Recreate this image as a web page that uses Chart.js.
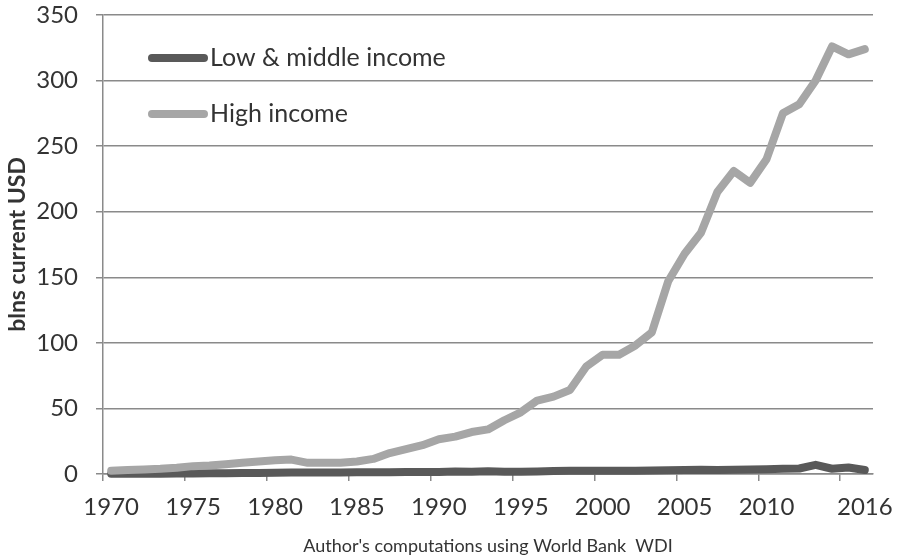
<!DOCTYPE html>
<html>
<head>
<meta charset="utf-8">
<script src="https://cdn.jsdelivr.net/npm/chart.js@4"></script>
<style>
html,body{margin:0;padding:0;background:#fff;}
#wrap{width:897px;height:555px;}
</style>
</head>
<body>
<div id="wrap"><canvas id="c" width="897" height="555"></canvas></div>
<script>
const years = [1970,1971,1972,1973,1974,1975,1976,1977,1978,1979,
               1980,1981,1982,1983,1984,1985,1986,1987,1988,1989,
               1990,1991,1992,1993,1994,1995,1996,1997,1998,1999,
               2000,2001,2002,2003,2004,2005,2006,2007,2008,2009,
               2010,2011,2012,2013,2014,2015,2016];
const lowMiddle = [0.1,0.1,0.2,0.2,0.3,0.4,0.5,0.6,0.7,0.8,
                   1.0,1.1,1.1,1.1,1.2,1.3,1.3,1.4,1.5,1.5,
                   1.6,2.0,1.7,2.1,1.8,1.8,2.0,2.2,2.4,2.5,
                   2.4,2.4,2.5,2.6,2.8,3.0,3.3,3.0,3.3,3.4,
                   3.6,4.0,4.2,7.0,4.0,5.0,3.0];
const highIncome = [2.5,3.0,3.5,4.0,4.8,6.0,6.5,7.5,8.5,9.5,
                    10.5,11.0,8.5,8.5,8.5,9.5,11.5,16.0,19.0,22.0,
                    26.5,28.5,32.0,34.0,41.0,47.0,56.0,59.0,64.0,82.0,
                    91.0,91.0,98.0,108.0,147.0,168.0,184.0,215.0,231.0,222.0,
                    240.0,275.0,282.0,300.0,326.0,320.0,324.0];
const xLabelYears = [1970,1975,1980,1985,1990,1995,2000,2005,2010,2016];
const yTicks = [0,50,100,150,200,250,300,350];
const seriesNames = ['Low & middle income','High income'];
const yTitle = 'blns current USD';
const sourceNote = "Author's computations using World Bank  WDI";

const LOW_COLOR = '#595959';
const HIGH_COLOR = '#a6a6a6';
const GRID = '#8a8a8a';
const TEXT = '#333333';
const FONT = 'Lato';

const insideLegend = {
  id: 'insideLegend',
  afterDatasetsDraw(chart) {
    const ctx = chart.ctx;
    const items = [
      {name: seriesNames[0], color: LOW_COLOR, y: 58},
      {name: seriesNames[1], color: HIGH_COLOR, y: 114}
    ];
    ctx.save();
    items.forEach(it => {
      ctx.beginPath();
      ctx.strokeStyle = it.color;
      ctx.lineWidth = 8;
      ctx.lineCap = 'round';
      ctx.moveTo(152, it.y);
      ctx.lineTo(204, it.y);
      ctx.stroke();
      ctx.fillStyle = TEXT;
      ctx.font = '25px ' + FONT;
      ctx.textAlign = 'left';
      ctx.textBaseline = 'middle';
      ctx.fillText(it.name, 210, it.y);
    });
    ctx.restore();
  }
};

new Chart(document.getElementById('c'), {
  type: 'line',
  data: {
    labels: years,
    datasets: [
      {label: seriesNames[0], data: lowMiddle, borderColor: LOW_COLOR, backgroundColor: LOW_COLOR,
       borderWidth: 8, pointRadius: 0, tension: 0, borderJoinStyle: 'round', borderCapStyle: 'round', order: 1, clip: false},
      {label: seriesNames[1], data: highIncome, borderColor: HIGH_COLOR, backgroundColor: HIGH_COLOR,
       borderWidth: 8, pointRadius: 0, tension: 0, borderJoinStyle: 'round', borderCapStyle: 'round', order: 0, clip: false}
    ]
  },
  options: {
    responsive: false,
    animation: false,
    layout: {padding: {top: 15, right: 24, left: 0, bottom: 0}},
    plugins: {legend: {display: false}, tooltip: {enabled: false}},
    scales: {
      x: {
        type: 'category',
        offset: true,
        grid: {
          offset: true, drawOnChartArea: false, drawTicks: true, tickLength: 7, lineWidth: 1.5,
          color: (c) => (c.index % 5 === 0 ? GRID : 'rgba(0,0,0,0)')
        },
        border: {display: true, color: GRID, width: 1.5},
        ticks: {
          autoSkip: false, maxRotation: 0, minRotation: 0, padding: 12,
          font: {family: FONT, size: 24}, color: TEXT,
          callback: function(v, i) { const y = years[i]; return xLabelYears.includes(y) ? String(y) : ''; }
        },
        title: {display: true, text: sourceNote, font: {family: FONT, size: 18, lineHeight: 1}, color: TEXT, padding: {top: 0, bottom: 0}},
        afterFit: (s) => { s.height = 81; s.paddingLeft = 0; s.paddingRight = 0; }
      },
      y: {
        min: 0, max: 350,
        afterBuildTicks: (s) => { s.ticks = yTicks.map(v => ({value: v})); },
        ticks: {padding: 18, font: {family: FONT, size: 24}, color: TEXT},
        grid: {color: GRID, lineWidth: 1.5, tickLength: 7},
        border: {display: true, color: GRID, width: 1.5},
        title: {display: true, text: yTitle, font: {family: FONT, size: 23, weight: 'bold', lineHeight: 1.2}, color: TEXT, padding: {top: 4, bottom: 0}},
        afterFit: (s) => { s.width = 103; s.paddingTop = 0; s.paddingBottom = 0; }
      }
    }
  },
  plugins: [insideLegend]
});
</script>
</body>
</html>
